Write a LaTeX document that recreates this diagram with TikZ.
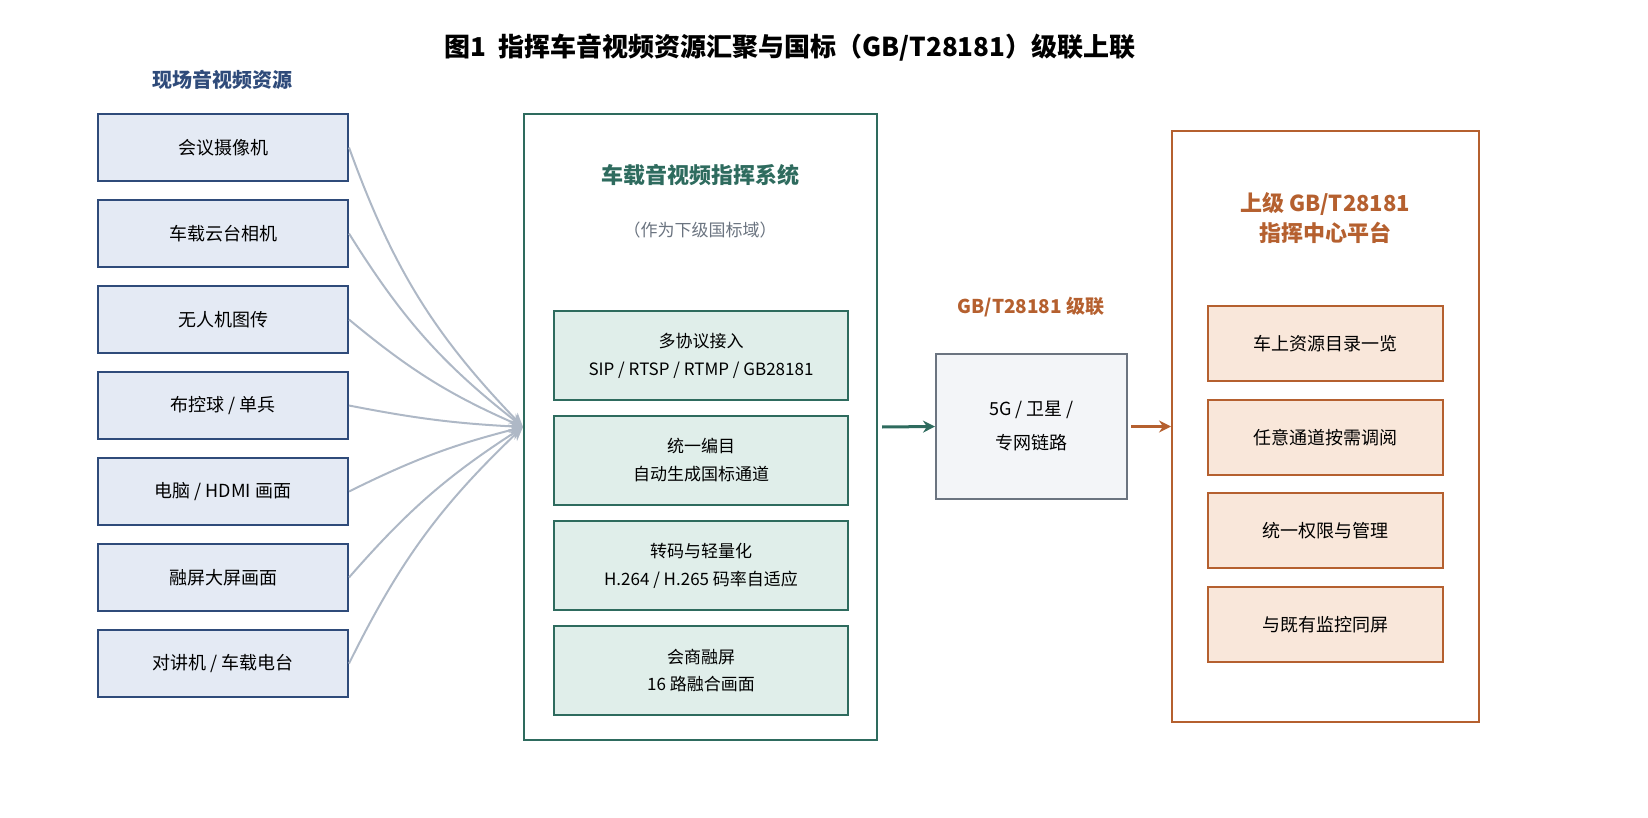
\documentclass[tikz,border=0pt]{standalone}
\usepackage{fontspec}
\setmainfont{Noto Sans CJK SC}
\usetikzlibrary{arrows.meta,positioning}
\definecolor{srcblue}{HTML}{2F4B7A}
\definecolor{srcfill}{HTML}{E4EAF4}
\definecolor{sysgreen}{HTML}{2E6B5E}
\definecolor{sysfill}{HTML}{E0EEEA}
\definecolor{linkgray}{HTML}{6B7480}
\definecolor{linkfill}{HTML}{F3F5F8}
\definecolor{uporange}{HTML}{B5602F}
\definecolor{upfill}{HTML}{F9E7DA}
\definecolor{feedgray}{HTML}{AEB8C6}
\tikzset{
  src/.style={draw=srcblue,fill=srcfill,line width=2pt,minimum width=250pt,minimum height=67pt,font=\fontsize{18}{22}\selectfont},
  mod/.style={draw=sysgreen,fill=sysfill,line width=2pt,minimum width=294pt,minimum height=89pt,align=center,font=\fontsize{17}{28}\selectfont},
  app/.style={draw=uporange,fill=upfill,line width=2pt,minimum width=235pt,minimum height=75pt,font=\fontsize{18}{22}\selectfont},
  feed/.style={feedgray,line width=2pt,-{Stealth[length=14pt,width=12pt]}},
}
\begin{document}
\begin{tikzpicture}[x=1pt,y=-1pt]
  \useasboundingbox (0,0) rectangle (1648,818);
  % title
  \node (title) at (790,48) {\fontsize{26}{30}\selectfont\bfseries 图1\ \ 指挥车音视频资源汇聚与国标（GB/T28181）级联上联};
  % sources
  \node[text=srcblue,font=\fontsize{20}{24}\selectfont\bfseries] (srctitle) at (222,80) {现场音视频资源};
  \node[src] (s1) at (223,147.5) {会议摄像机};
  \node[src] (s2) at (223,233.5) {车载云台相机};
  \node[src] (s3) at (223,319.5) {无人机图传};
  \node[src] (s4) at (223,405.5) {布控球 / 单兵};
  \node[src] (s5) at (223,491.5) {电脑 / HDMI 画面};
  \node[src] (s6) at (223,577.5) {融屏大屏画面};
  \node[src] (s7) at (223,663.5) {对讲机 / 车载电台};
  % system
  \node[draw=sysgreen,line width=2pt,minimum width=353pt,minimum height=626pt] (sys) at (700.5,427) {};
  \coordinate (hub) at (sys.west);
  \node[text=sysgreen,font=\fontsize{22}{26}\selectfont\bfseries] (systitle) at (700,175) {车载音视频指挥系统};
  \node[text=linkgray,font=\fontsize{17}{20}\selectfont] (syssub) at (700,230) {（作为下级国标域）};
  \node[mod] (m1) at (701,355.5) {多协议接入\\SIP / RTSP / RTMP / GB28181};
  \node[mod] (m2) at (701,460.5) {统一编目\\自动生成国标通道};
  \node[mod] (m3) at (701,565.5) {转码与轻量化\\H.264 / H.265 码率自适应};
  \node[mod] (m4) at (701,670.5) {会商融屏\\16 路融合画面};
  \foreach \i/\b in {1/-12,2/-10,3/-8,4/-4,5/6,6/8,7/10}
    \draw[feed] (s\i.east) to[bend left=\b] (hub);
  % link
  \node[draw=linkgray,fill=linkfill,line width=2pt,minimum width=191pt,minimum height=145pt,align=center,font=\fontsize{18}{34}\selectfont] (link) at (1031.5,426.5) {5G / 卫星 /\\专网链路};
  \node[text=uporange,font=\fontsize{19}{22}\selectfont\bfseries] (linklabel) at (1031,307) {GB/T28181 级联};
  \draw[sysgreen,line width=3pt,-{Stealth[length=12pt,width=12pt]}] (sys.east) ++(4,0) coordinate (a1) (a1) -- (link.west);
  % upper platform
  \node[draw=uporange,line width=2pt,minimum width=307pt,minimum height=591pt] (plat) at (1325.5,426.5) {};
  \draw[uporange,line width=3pt,-{Stealth[length=12pt,width=12pt]}] (link.east) ++(3,0) coordinate (a2) (a2) -- (plat.west);
  \node[text=uporange,align=center,font=\fontsize{22}{30}\selectfont\bfseries] (plattitle) at (1325,218) {上级 GB/T28181\\指挥中心平台};
  \node[app] (p1) at (1325.5,343.5) {车上资源目录一览};
  \node[app] (p2) at (1325.5,437.5) {任意通道按需调阅};
  \node[app] (p3) at (1325.5,530.5) {统一权限与管理};
  \node[app] (p4) at (1325.5,624.5) {与既有监控同屏};
\end{tikzpicture}
\end{document}
